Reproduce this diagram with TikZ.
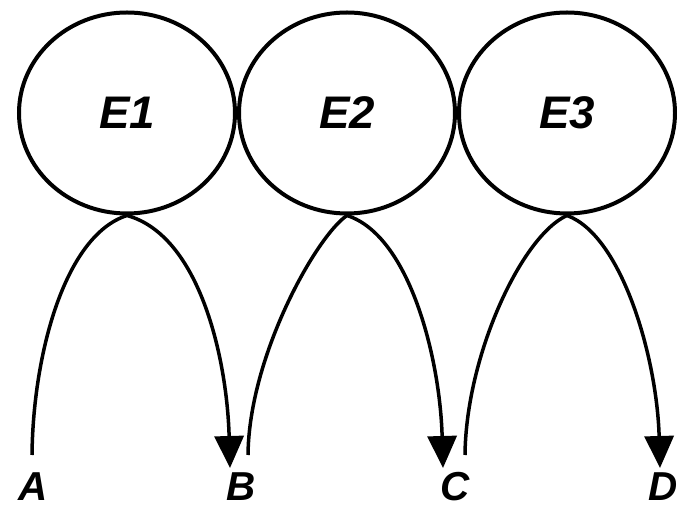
\documentclass[tikz,border=0pt]{standalone}
\usepackage{fontspec}
\setmainfont{Liberation Sans}
\usetikzlibrary{positioning,arrows.meta,shapes.geometric}

\begin{document}
\begin{tikzpicture}[
enzyme/.style={draw, ellipse, line width=0.8mm, minimum width=43.2mm, minimum height=40.2mm, inner sep=0pt, font=\fontsize{26}{30}\selectfont\bfseries\itshape},
species/.style={inner sep=0pt, font=\fontsize{23}{26}\selectfont\bfseries\itshape},
reaction/.style={-{Triangle[length=6.4mm,width=5.8mm]}, line width=0.7mm},
node distance=0mm
]
\useasboundingbox (-25.4mm,22.6mm) rectangle (110mm,-78.8mm);
% the three enzymes, touching side by side
\node[enzyme] (e1) at (0,0) {E1};
\node[enzyme, right=of e1] (e2) {E2};
\node[enzyme, right=of e2] (e3) {E3};
% substrates and products along the bottom
\node[species] (sA) at (-18.8mm,-74.8mm) {A};
\node[species] (sB) at (22.8mm,-74.8mm) {B};
\node[species] (sC) at (65.6mm,-74.8mm) {C};
\node[species] (sD) at (107.2mm,-74.8mm) {D};
\coordinate (a) at (-19mm,-68.4mm);
\coordinate (b in) at (20.6mm,-71mm);
\coordinate (b out) at (24.2mm,-68.4mm);
\coordinate (c in) at (63.2mm,-71mm);
\coordinate (c out) at (67.6mm,-68.4mm);
\coordinate (d) at (106.6mm,-71mm);
% each step arches up to its enzyme and back down
\draw[reaction] (a) .. controls +(0.2mm,20mm) and +(-12.5mm,-4mm) .. (e1.south)
  .. controls +(14.5mm,-4mm) and +(-0.6mm,22mm) .. (b in);
\draw[reaction] (b out) .. controls +(0.2mm,20mm) and +(-6mm,-4mm) .. (e2.south)
  .. controls +(12.5mm,-4mm) and +(-0.6mm,22mm) .. (c in);
\draw[reaction] (c out) .. controls +(0.2mm,20mm) and +(-9mm,-4mm) .. (e3.south)
  .. controls +(11mm,-4mm) and +(-0.6mm,22mm) .. (d);
\end{tikzpicture}
\end{document}
